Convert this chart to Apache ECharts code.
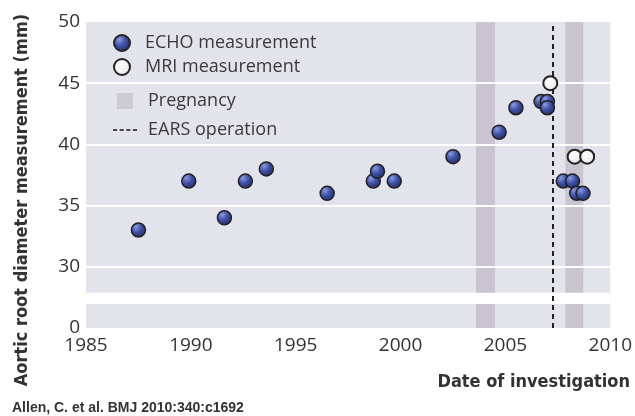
<!DOCTYPE html>
<html>
<head>
<meta charset="utf-8">
<script src="https://cdn.jsdelivr.net/npm/echarts@6/dist/echarts.min.js"></script>
<style>html,body{margin:0;padding:0;background:#fff;}#c{width:635px;height:416px;}</style>
</head>
<body>
<div id="c"></div>
<script>
// ---- data ----
const echoYears  = [1987.5, 1989.9, 1991.6, 1992.6, 1993.6, 1996.5, 1998.7, 1998.9, 1999.7, 2002.5, 2004.7, 2005.5, 2006.7, 2007.0, 2007.0, 2007.76, 2008.2, 2008.4, 2008.7];
const echoValues = [33, 37, 34, 37, 38, 36, 37, 37.8, 37, 39, 41, 43, 43.5, 43.5, 43, 37, 37, 36, 36];
const mriYears  = [2007.14, 2008.3, 2008.9];
const mriValues = [45, 39, 39];
const pregnancyStart = [2003.6, 2007.86];
const pregnancyEnd   = [2004.5, 2008.71];
const operationYear = 2007.24;
const yGridValues = [30, 35, 40, 45];
const axisBreakFrom = 26.96;  // drawn gap between 0 and 30
const axisBreakTo = 27.88;
const yZeroPosition = 25;     // where "0" is plotted on the broken axis

const chart = echarts.init(document.getElementById('c'), null, {renderer: 'canvas'});
const font = "'Open Sans', 'DejaVu Sans', sans-serif";
const echoColor = new echarts.graphic.RadialGradient(0.35, 0.3, 0.7, [
  {offset: 0, color: '#8a9ae0'}, {offset: 0.5, color: '#3f51a8'}, {offset: 1, color: '#25306e'}]);
const mriColor = new echarts.graphic.RadialGradient(0.4, 0.35, 0.7, [
  {offset: 0, color: '#ffffff'}, {offset: 0.7, color: '#eeeeee'}, {offset: 1, color: '#bbbbbb'}]);
const dashIcon = 'path://M0,0h4v2h-4z M6.5,0h4v2h-4z M13,0h4v2h-4z M19.5,0h4v2h-4z';
const squareIcon = 'path://M0,0h10v10h-10z';

chart.setOption({
  animation: false,
  grid: {left: 86, right: 24, top: 22, bottom: 88, show: true, backgroundColor: '#e3e3ec', borderWidth: 0},
  xAxis: {
    type: 'value', min: 1985, max: 2010, interval: 5,
    axisLine: {show: false}, axisTick: {show: false}, splitLine: {show: false},
    axisLabel: {fontSize: 19, color: '#333', fontFamily: font, margin: 8, formatter: v => String(v)}
  },
  yAxis: {
    type: 'value', min: yZeroPosition, max: 50, interval: 5,
    axisLine: {show: false}, axisTick: {show: false}, splitLine: {show: false},
    axisLabel: {fontSize: 19, color: '#333', fontFamily: font, margin: 6, padding: [4, 0, 0, 0],
      formatter: v => v === yZeroPosition ? '0' : String(v)}
  },
  legend: [
    {data: [{name: 'ECHO measurement', icon: 'circle'}, {name: 'MRI measurement', icon: 'circle'}],
     orient: 'vertical', left: 108, top: 29,
     itemWidth: 24, itemHeight: 16, itemGap: 6,
     textStyle: {fontSize: 18, color: '#3a3a3a', fontFamily: font, padding: [0, 0, 0, 6]}},
    {data: [{name: 'Pregnancy', icon: squareIcon}, {name: 'EARS operation', icon: dashIcon}],
     orient: 'vertical', left: 108, top: 87,
     itemWidth: 24, itemHeight: 16, itemGap: 11,
     textStyle: {fontSize: 18, color: '#3a3a3a', fontFamily: font, padding: [0, 0, 0, 6]}}
  ],
  series: [
    {
      name: 'Pregnancy', type: 'scatter', data: [], z: 1,
      itemStyle: {color: '#c9c4cf'},
      markArea: {silent: true, itemStyle: {color: '#c9c4cf'},
        data: pregnancyStart.map((s, i) => [{xAxis: s}, {xAxis: pregnancyEnd[i]}])}
    },
    {
      name: 'helper', type: 'scatter', data: [], z: 2,
      markArea: {silent: true, itemStyle: {color: '#ffffff'},
        data: [[{yAxis: axisBreakFrom}, {yAxis: axisBreakTo}]]},
      markLine: {silent: true, symbol: 'none', label: {show: false},
        lineStyle: {color: '#ffffff', width: 2, type: 'solid'},
        data: yGridValues.map(v => ({yAxis: v}))}
    },
    {
      name: 'EARS operation', type: 'scatter', data: [], z: 3,
      itemStyle: {color: '#222'},
      markLine: {silent: true, symbol: 'none', label: {show: false},
        lineStyle: {color: '#222', width: 2, type: [5, 4]},
        data: [{xAxis: operationYear}]}
    },
    {
      name: 'ECHO measurement', type: 'scatter', z: 5, symbol: 'circle', symbolSize: 14,
      data: echoYears.map((y, i) => [y, echoValues[i]]),
      itemStyle: {color: echoColor, borderColor: '#222', borderWidth: 1.5, opacity: 1}
    },
    {
      name: 'MRI measurement', type: 'scatter', z: 5, symbol: 'circle', symbolSize: 14,
      data: mriYears.map((y, i) => [y, mriValues[i]]),
      itemStyle: {color: mriColor, borderColor: '#222', borderWidth: 2, opacity: 1}
    }
  ],
  graphic: [
    {type: 'text', x: 22, y: 200, rotation: Math.PI / 2,
     style: {text: 'Aortic root diameter measurement (mm)', textAlign: 'center', textVerticalAlign: 'middle',
       font: "bold 18px 'DejaVu Sans Condensed', 'DejaVu Sans', sans-serif", fill: '#333'}},
    {type: 'text', x: 630, y: 382,
     style: {text: 'Date of investigation', textAlign: 'right', textVerticalAlign: 'middle',
       font: "bold 18px 'DejaVu Sans Condensed', 'DejaVu Sans', sans-serif", fill: '#333'}},
    {type: 'text', x: 12, y: 408,
     style: {text: 'Allen, C. et al. BMJ 2010:340:c1692', textAlign: 'left', textVerticalAlign: 'middle',
       font: "bold 14px 'Liberation Sans', Arial, sans-serif", fill: '#333'}}
  ]
});
</script>
</body>
</html>
